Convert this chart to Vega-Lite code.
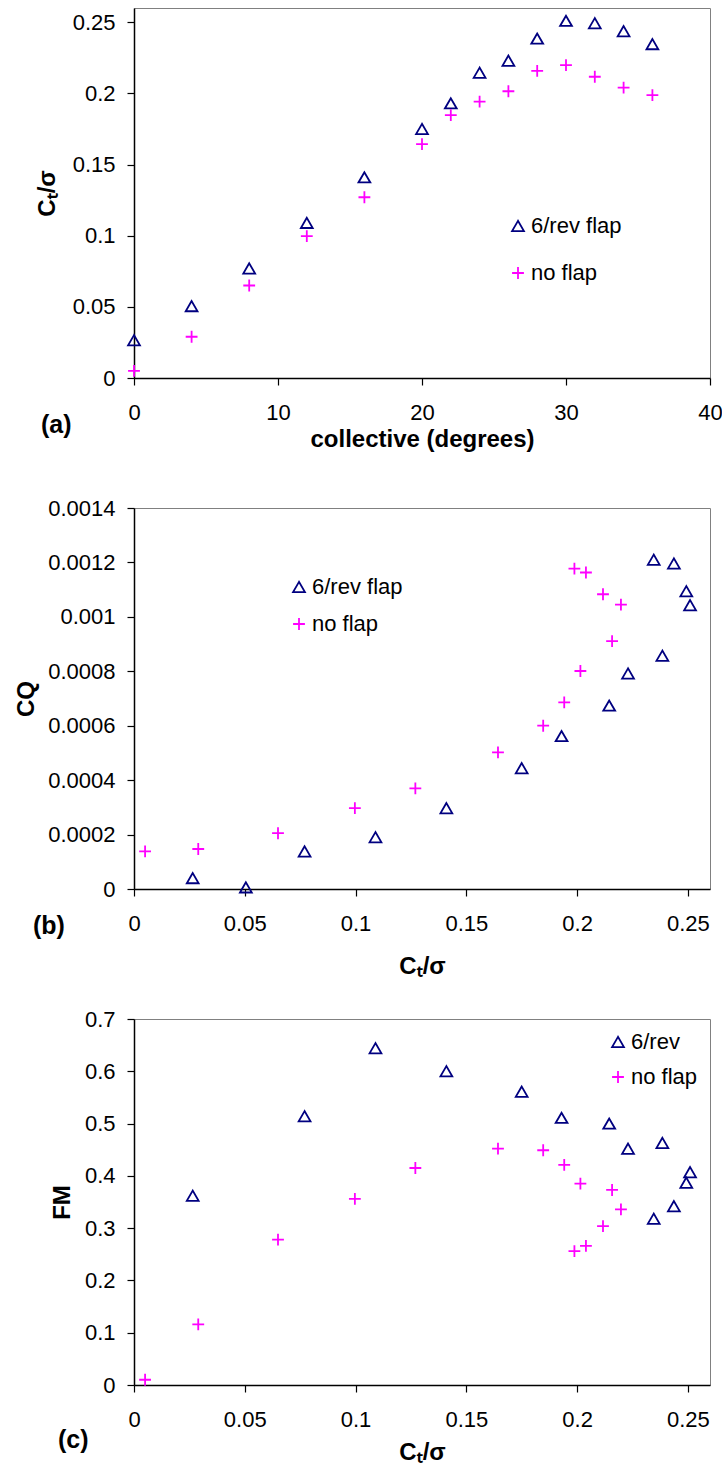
{
  "$schema": "https://vega.github.io/schema/vega-lite/v6.json",
  "padding": {"left": 13, "top": 7, "right": 4, "bottom": 4},
  "autosize": {"type": "pad"},
  "background": "white",
  "bounds": "flush",
  "spacing": 130,
  "resolve": {
    "scale": {"color": "independent", "shape": "independent"},
    "legend": {"color": "independent", "shape": "independent"}
  },
  "config": {
    "font": "Liberation Sans",
    "view": {"stroke": "#808080", "strokeWidth": 1},
    "axis": {
      "grid": false,
      "domainColor": "#000000",
      "domainWidth": 1.5,
      "tickColor": "#000000",
      "tickWidth": 1.2,
      "tickSize": 7,
      "labelFont": "Liberation Sans",
      "labelFontSize": 22,
      "labelColor": "#000000",
      "titleFont": "Liberation Sans",
      "titleFontSize": 24,
      "titleFontWeight": "bold",
      "titleColor": "#000000",
      "format": "~r",
      "labelFlush": false,
      "labelOverlap": false
    },
    "axisX": {"labelPadding": 17, "titleBaseline": "middle"},
    "axisY": {"labelPadding": 12, "titleBaseline": "middle", "titleAngle": -90},
    "legend": {
      "title": null,
      "padding": 0,
      "offset": 0,
      "symbolSize": 140,
      "symbolStrokeWidth": 1.8,
      "labelFont": "Liberation Sans",
      "labelFontSize": 22,
      "labelColor": "#000000",
      "labelOffset": 2
    },
    "title": {
      "font": "Liberation Sans",
      "fontSize": 25,
      "fontWeight": "bold",
      "color": "#000000"
    }
  },
  "datasets": {
    "rotor": [
      {"series": "6/rev flap", "collective": 0, "ct": 0.0265, "cq": 0.00004, "fm": 0.362},
      {"series": "6/rev flap", "collective": 4, "ct": 0.0505, "cq": 0.000006, "fm": null},
      {"series": "6/rev flap", "collective": 8, "ct": 0.077, "cq": 0.000138, "fm": 0.514},
      {"series": "6/rev flap", "collective": 12, "ct": 0.109, "cq": 0.00019, "fm": 0.644},
      {"series": "6/rev flap", "collective": 16, "ct": 0.141, "cq": 0.000297, "fm": 0.6},
      {"series": "6/rev flap", "collective": 20, "ct": 0.175, "cq": 0.000444, "fm": 0.561},
      {"series": "6/rev flap", "collective": 22, "ct": 0.193, "cq": 0.000562, "fm": 0.511},
      {"series": "6/rev flap", "collective": 24, "ct": 0.2145, "cq": 0.000674, "fm": 0.5},
      {"series": "6/rev flap", "collective": 26, "ct": 0.223, "cq": 0.000792, "fm": 0.452},
      {"series": "6/rev flap", "collective": 28, "ct": 0.2385, "cq": 0.000857, "fm": 0.463},
      {"series": "6/rev flap", "collective": 30, "ct": 0.251, "cq": 0.001043, "fm": 0.407},
      {"series": "6/rev flap", "collective": 32, "ct": 0.2493, "cq": 0.001094, "fm": 0.387},
      {"series": "6/rev flap", "collective": 34, "ct": 0.2437, "cq": 0.001196, "fm": 0.342},
      {"series": "6/rev flap", "collective": 36, "ct": 0.2346, "cq": 0.00121, "fm": 0.318},
      {"series": "no flap", "collective": 0, "ct": 0.005, "cq": 0.000138, "fm": 0.01},
      {"series": "no flap", "collective": 4, "ct": 0.029, "cq": 0.000147, "fm": 0.116},
      {"series": "no flap", "collective": 8, "ct": 0.065, "cq": 0.000205, "fm": 0.278},
      {"series": "no flap", "collective": 12, "ct": 0.0997, "cq": 0.000297, "fm": 0.356},
      {"series": "no flap", "collective": 16, "ct": 0.127, "cq": 0.00037, "fm": 0.415},
      {"series": "no flap", "collective": 20, "ct": 0.1643, "cq": 0.000502, "fm": 0.452},
      {"series": "no flap", "collective": 22, "ct": 0.1847, "cq": 0.0006, "fm": 0.449},
      {"series": "no flap", "collective": 24, "ct": 0.1942, "cq": 0.000686, "fm": 0.421},
      {"series": "no flap", "collective": 26, "ct": 0.2015, "cq": 0.000801, "fm": 0.385},
      {"series": "no flap", "collective": 28, "ct": 0.2158, "cq": 0.000911, "fm": 0.373},
      {"series": "no flap", "collective": 30, "ct": 0.2198, "cq": 0.001045, "fm": 0.336},
      {"series": "no flap", "collective": 32, "ct": 0.2117, "cq": 0.001083, "fm": 0.304},
      {"series": "no flap", "collective": 34, "ct": 0.204, "cq": 0.001163, "fm": 0.266},
      {"series": "no flap", "collective": 36, "ct": 0.1988, "cq": 0.001177, "fm": 0.256}
    ]
  },
  "vconcat": [
    {
      "width": 576,
      "height": 370,
      "title": {"text": "(a)", "orient": "bottom", "anchor": "start", "frame": "group", "baseline": "middle", "offset": 0, "dx": -93, "dy": -26},
      "data": {"name": "rotor"},
      "mark": {"type": "point", "filled": false, "size": 140, "strokeWidth": 1.8, "opacity": 1},
      "encoding": {
        "x": {"field": "collective", "type": "quantitative", "scale": {"domain": [0, 40], "nice": false, "zero": false},
              "axis": {"values": [0, 10, 20, 30, 40], "title": "collective (degrees)", "titleY": 61}},
        "y": {"field": "ct", "type": "quantitative", "scale": {"domain": [0, 0.26], "nice": false},
              "axis": {"values": [0, 0.05, 0.1, 0.15, 0.2, 0.25], "title": "Cₜ/σ", "titleX": -87}},
        "color": {"field": "series", "type": "nominal",
                  "scale": {"domain": ["6/rev flap", "no flap"], "range": ["#000080", "#FF00FF"]},
                  "legend": {"orient": "none", "legendX": 373, "legendY": 207, "rowPadding": 25}},
        "shape": {"field": "series", "type": "nominal",
                  "scale": {"domain": ["6/rev flap", "no flap"], "range": ["triangle-up", "M-1,0H1M0,-1V1"]},
                  "legend": {"orient": "none", "legendX": 373, "legendY": 207, "rowPadding": 25}}
      }
    },
    {
      "width": 576,
      "height": 381,
      "title": {"text": "(b)", "orient": "bottom", "anchor": "start", "frame": "group", "baseline": "middle", "offset": 0, "dx": -101, "dy": -52},
      "data": {"name": "rotor"},
      "mark": {"type": "point", "filled": false, "size": 140, "strokeWidth": 1.8, "opacity": 1},
      "encoding": {
        "x": {"field": "ct", "type": "quantitative", "scale": {"domain": [0, 0.26], "nice": false},
              "axis": {"values": [0, 0.05, 0.1, 0.15, 0.2, 0.25], "title": "Cₜ/σ", "titleY": 77}},
        "y": {"field": "cq", "type": "quantitative", "scale": {"domain": [0, 0.0014], "nice": false},
              "axis": {"values": [0, 0.0002, 0.0004, 0.0006, 0.0008, 0.001, 0.0012, 0.0014], "title": "CQ", "titleX": -108}},
        "color": {"field": "series", "type": "nominal",
                  "scale": {"domain": ["6/rev flap", "no flap"], "range": ["#000080", "#FF00FF"]},
                  "legend": {"orient": "none", "legendX": 154, "legendY": 68, "rowPadding": 15}},
        "shape": {"field": "series", "type": "nominal",
                  "scale": {"domain": ["6/rev flap", "no flap"], "range": ["triangle-up", "M-1,0H1M0,-1V1"]},
                  "legend": {"orient": "none", "legendX": 154, "legendY": 68, "rowPadding": 15}}
      }
    },
    {
      "width": 576,
      "height": 366,
      "title": {"text": "(c)", "orient": "bottom", "anchor": "start", "frame": "group", "baseline": "middle", "offset": 0, "dx": -76, "dy": -24},
      "data": {"name": "rotor"},
      "transform": [{"filter": "isValid(datum.fm)"}],
      "mark": {"type": "point", "filled": false, "size": 140, "strokeWidth": 1.8, "opacity": 1},
      "encoding": {
        "x": {"field": "ct", "type": "quantitative", "scale": {"domain": [0, 0.26], "nice": false},
              "axis": {"values": [0, 0.05, 0.1, 0.15, 0.2, 0.25], "title": "Cₜ/σ", "titleY": 67}},
        "y": {"field": "fm", "type": "quantitative", "scale": {"domain": [0, 0.7], "nice": false},
              "axis": {"values": [0, 0.1, 0.2, 0.3, 0.4, 0.5, 0.6, 0.7], "title": "FM", "titleX": -72}},
        "color": {"field": "series", "type": "nominal",
                  "scale": {"domain": ["6/rev flap", "no flap"], "range": ["#000080", "#FF00FF"]},
                  "legend": {"orient": "none", "legendX": 473, "legendY": 12, "rowPadding": 13, "fillColor": "white",
                             "labelExpr": "datum.label == '6/rev flap' ? '6/rev' : datum.label"}},
        "shape": {"field": "series", "type": "nominal",
                  "scale": {"domain": ["6/rev flap", "no flap"], "range": ["triangle-up", "M-1,0H1M0,-1V1"]},
                  "legend": {"orient": "none", "legendX": 473, "legendY": 12, "rowPadding": 13, "fillColor": "white",
                             "labelExpr": "datum.label == '6/rev flap' ? '6/rev' : datum.label"}}
      }
    }
  ]
}
